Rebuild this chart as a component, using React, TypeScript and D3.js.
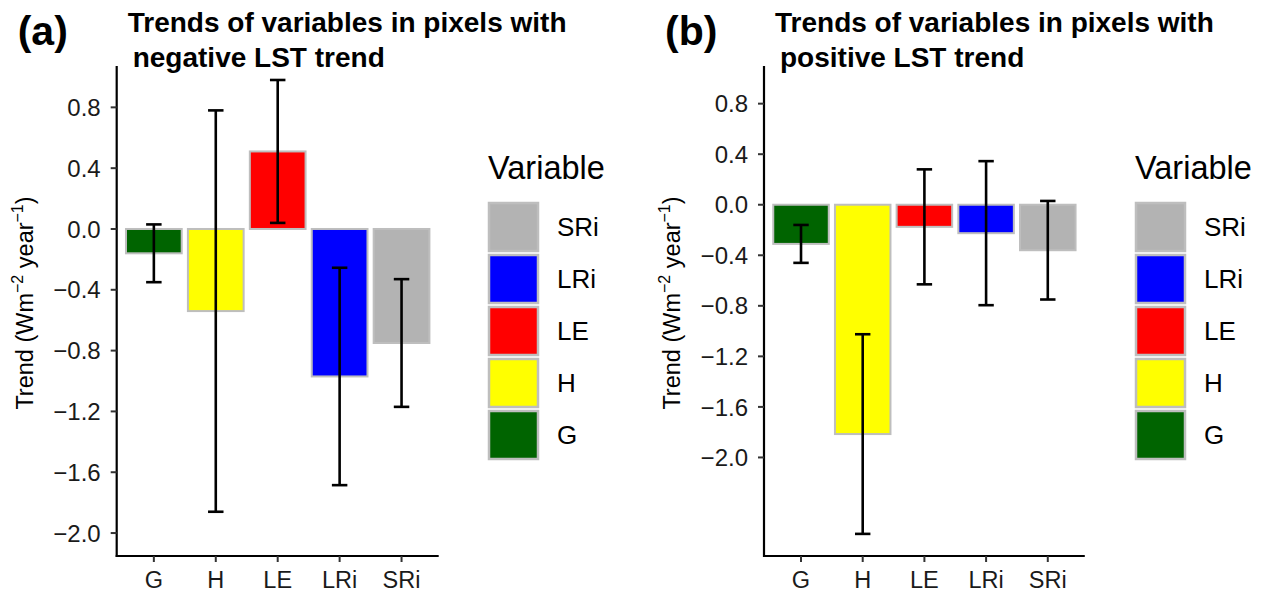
import React from 'react';
import * as d3 from 'd3';

// variables, as ordered on the x axis
const categories = ['G', 'H', 'LE', 'LRi', 'SRi'];
const barColors = ['#006400', '#FFFF00', '#FF0000', '#0000FF', '#B3B3B3'];

// (a) pixels with negative LST trend
const negTrend = [-0.16, -0.54, 0.51, -0.97, -0.75];
const negErr = [0.19, 1.32, 0.47, 0.715, 0.42];

// (b) pixels with positive LST trend
const posTrend = [-0.31, -1.815, -0.175, -0.225, -0.36];
const posErr = [0.15, 0.79, 0.455, 0.57, 0.39];

const yTicks = [0.8, 0.4, 0.0, -0.4, -0.8, -1.2, -1.6, -2.0];

const FONT = '"Liberation Sans", Arial, Helvetica, sans-serif';

function Panel(props) {
    const { letter, line1, line2, trend, err, x0, x1, yDomain, legendX } = props;
    const top = 66, bottom = 556;

    const x = d3.scalePoint().domain(categories).range([x0, x1]).padding(0.6);
    const y = d3.scaleLinear().domain(yDomain).range([bottom, top]);
    const step = x.step();
    const barW = step * 0.9;
    const capW = step * 0.25;
    const fmt = d3.format('.1f');
    const titleX = x0 + 11;
    const midY = (top + bottom) / 2 - 8;

    const legendOrder = categories.map((c, i) => i).reverse();

    return (
        <g fontFamily={FONT}>
            <text x={x0 - 99} y={45} fontSize={41} fontWeight="bold">{letter}</text>
            <text x={titleX} y={32} fontSize={28} fontWeight="bold">{line1}</text>
            <text x={titleX + 5} y={67} fontSize={28} fontWeight="bold">{line2}</text>

            {categories.map((c, i) => {
                const v = trend[i];
                const yTop = y(Math.max(0, v));
                const yBot = y(Math.min(0, v));
                return (
                    <rect key={c} x={x(c) - barW / 2} y={yTop} width={barW} height={yBot - yTop}
                        fill={barColors[i]} stroke="#BEBEBE" strokeWidth={2} />
                );
            })}

            {categories.map((c, i) => {
                const cx = x(c);
                const hi = y(trend[i] + err[i]);
                const lo = y(trend[i] - err[i]);
                return (
                    <g key={c} stroke="#000" strokeWidth={2.6} fill="none">
                        <line x1={cx} x2={cx} y1={hi} y2={lo} />
                        <line x1={cx - capW / 2} x2={cx + capW / 2} y1={hi} y2={hi} />
                        <line x1={cx - capW / 2} x2={cx + capW / 2} y1={lo} y2={lo} />
                    </g>
                );
            })}

            {/* axes */}
            <line x1={x0} x2={x0} y1={top} y2={bottom + 1} stroke="#000" strokeWidth={2.2} />
            <line x1={x0 - 1} x2={x1} y1={bottom} y2={bottom} stroke="#000" strokeWidth={2.2} />
            {yTicks.map(t => (
                <g key={t}>
                    <line x1={x0 - 6} x2={x0} y1={y(t)} y2={y(t)} stroke="#333" strokeWidth={2} />
                    <text x={x0 - 16} y={y(t)} dy="0.36em" textAnchor="end" fontSize={24} fill="#1a1a1a">{fmt(t)}</text>
                </g>
            ))}
            {categories.map(c => (
                <g key={c}>
                    <line x1={x(c)} x2={x(c)} y1={bottom} y2={bottom + 6} stroke="#333" strokeWidth={2} />
                    <text x={x(c)} y={588} textAnchor="middle" fontSize={23.5} fill="#1a1a1a">{c}</text>
                </g>
            ))}
            <text transform={`translate(${x0 - 84},${midY}) rotate(-90)`} textAnchor="middle" fontSize={23.5}>
                Trend (Wm<tspan fontSize={16} dy={-10}>−2</tspan><tspan dy={10}> year</tspan><tspan fontSize={16} dy={-10}>−1</tspan><tspan dy={10}>)</tspan>
            </text>

            {/* legend */}
            <text x={legendX} y={179} fontSize={32.5}>Variable</text>
            {legendOrder.map((i, k) => (
                <g key={categories[i]}>
                    <rect x={legendX + 1} y={203 + k * 52} width={49} height={48}
                        fill={barColors[i]} stroke="#BEBEBE" strokeWidth={2.5} />
                    <text x={legendX + 69} y={227 + k * 52} dy="0.36em" fontSize={26}>{categories[i]}</text>
                </g>
            ))}
        </g>
    );
}

export default function App() {
    return (
        <svg width={1263} height={594} style={{ position: 'absolute', left: 0, top: 0, background: '#fff' }}>
            <rect width={1263} height={594} fill="#fff" />
            <Panel letter="(a)" line1="Trends of variables in pixels with" line2="negative LST trend"
                trend={negTrend} err={negErr} x0={116.7} x1={438.7} yDomain={[-2.151, 1.072]} legendX={488} />
            <Panel letter="(b)" line1="Trends of variables in pixels with" line2="positive LST trend"
                trend={posTrend} err={posErr} x0={764} x1={1084.8} yDomain={[-2.78, 1.098]} legendX={1135} />
        </svg>
    );
}
